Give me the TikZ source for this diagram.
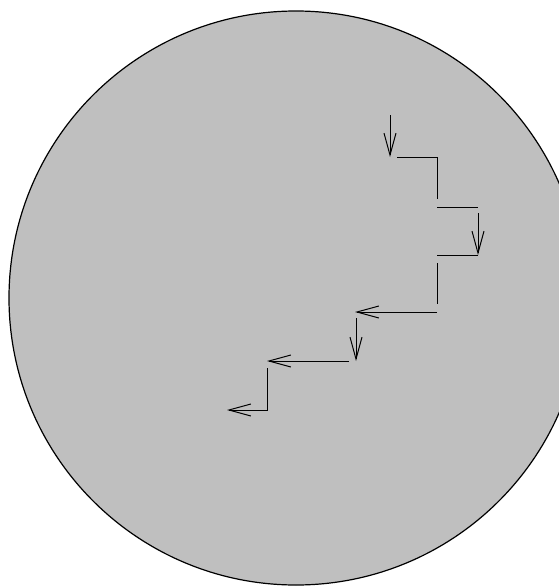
\documentclass[tikz,border=0pt]{standalone}
\usetikzlibrary{arrows.meta}
\definecolor{diskfill}{HTML}{BFBFBF}

\begin{document}
\begin{tikzpicture}[x=1pt, y=-1pt, line width=1pt,
    move/.style={-{Straight Barb[length=22pt, width=12pt]}},
    wall/.style={line cap=butt}]
  \useasboundingbox (0,0) rectangle (559,586);
  \clip (0,0) rectangle (559,586);
  \draw[fill=diskfill, line width=1.2pt] (296,298) circle[radius=287];

  % points of the walk
  \coordinate (s1) at (390,115); \coordinate (e1) at (390,157);
  \coordinate (s2) at (478,213); \coordinate (e2) at (478,255);
  \coordinate (s3) at (437,312); \coordinate (e3) at (355,312);
  \coordinate (s4) at (356,318); \coordinate (e4) at (356,361);
  \coordinate (s5) at (349,361); \coordinate (e5) at (267,361);
  \coordinate (c6) at (267,410); \coordinate (e6) at (227,410);

  \draw[move] (s1) -- (e1);
  \draw[wall] (397,157) -| (437,199);
  \draw[wall] (437,207) -- (e2 |- 0,207);
  \draw[move] (s2) -- (e2);
  \draw[wall] (e2) -- (437,255);
  \draw[wall] (437,263) -- (437,304);
  \draw[move] (s3) -- (e3);
  \draw[move] (s4) -- (e4);
  \draw[move] (s5) -- (e5);
  \draw[move] (267,368) -- (c6) -- (e6);
\end{tikzpicture}
\end{document}
